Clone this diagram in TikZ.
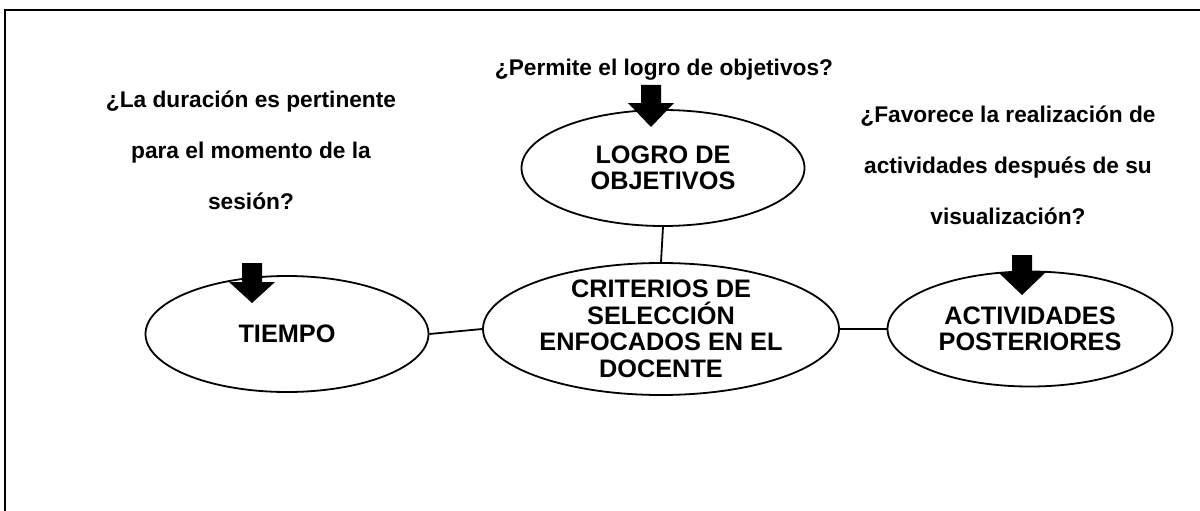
\documentclass[tikz,border=0pt]{standalone}
\usepackage{fontspec}
\setmainfont{Liberation Sans}
\usetikzlibrary{shapes.geometric}
\tikzset{
  oval/.style={draw,line width=1.8pt,ellipse,inner sep=0pt},
  ovaltext/.style={align=center,inner sep=0pt,font=\fontsize{25.3}{26.5}\selectfont\bfseries},
  question/.style={align=center,inner sep=0pt,font=\fontsize{22.7}{51}\selectfont\bfseries},
  link/.style={line width=1.8pt},
  frame/.style={line width=2.5pt}
}
\begin{document}
\begin{tikzpicture}[x=1pt,y=-1pt]
\useasboundingbox (0,0) rectangle (1200,511);
\fill[white] (0,0) rectangle (1200,511);
% frame
\coordinate (fbl) at (5,520);
\coordinate (ftl) at (5,10);
\coordinate (ftr) at (1210,10);
\draw[frame] (fbl) -- (ftl) -- (ftr);
% ellipses
\node[oval,minimum width=283pt,minimum height=116pt] (logro) at (663,168) {};
\node[ovaltext] (logrot) at (logro) {LOGRO DE\\OBJETIVOS};
\node[oval,minimum width=356pt,minimum height=132pt] (crit) at (661,329) {};
\node[ovaltext] (critt) at (crit) {CRITERIOS DE\\SELECCIÓN\\ENFOCADOS EN EL\\DOCENTE};
\node[oval,minimum width=283pt,minimum height=116pt] (tiempo) at (287,334) {};
\node[ovaltext] (tiempot) at (tiempo) {TIEMPO};
\node[oval,minimum width=285pt,minimum height=115pt] (act) at (1030,329) {};
\node[ovaltext] (actt) at (act) {ACTIVIDADES\\POSTERIORES};
% connectors
\draw[link] (logro.south) -- (crit.north);
\draw[link] (tiempo.east) -- (crit.west);
\draw[link] (crit.east) -- (act.west);
% questions
\node[question] (q1) at (664,70) {¿Permite el logro de objetivos?};
\node[question] (q2) at (251,150) {¿La duración es pertinente\\para el momento de la\\sesión?};
\node[question] (q3) at (1008,165) {¿Favorece la realización de\\actividades después de su\\visualización?};
% block arrows
\fill (641,85) -- (661,85) -- (661,103) -- (674,103) -- (651,127) -- (628,103) -- (641,103) -- cycle;
\fill (242,263) -- (262,263) -- (262,282) -- (275,282) -- (252,303) -- (229,282) -- (242,282) -- cycle;
\fill (1012,255) -- (1032,255) -- (1032,272) -- (1046,272) -- (1022,295) -- (998,272) -- (1012,272) -- cycle;
\end{tikzpicture}
\end{document}
